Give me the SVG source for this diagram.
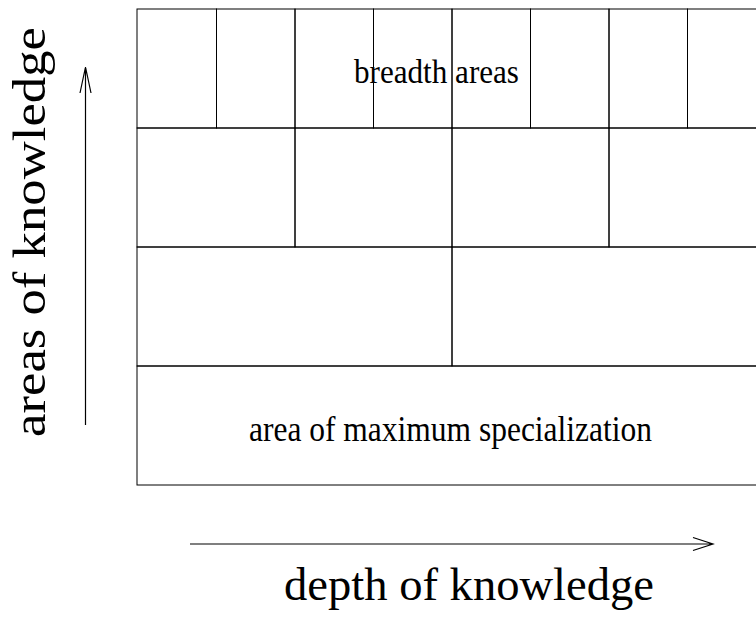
<svg xmlns="http://www.w3.org/2000/svg" width="756" height="618" viewBox="0 0 756 618">
<style>
.cell{fill:none;stroke:#000;stroke-width:1}
.t{font-family:'Liberation Serif','DejaVu Serif',serif;fill:#000}
.ax{fill:none;stroke:#000;stroke-width:1.2}
</style>
<rect width="756" height="618" fill="#fff"/>
<g id="row1">
<g id="b1"><rect class="cell" x="137" y="9" width="79.5" height="119"/></g>
<g id="b2"><rect class="cell" x="216.5" y="9" width="78.5" height="119"/></g>
<g id="b3"><rect class="cell" x="295" y="9" width="78.5" height="119"/></g>
<g id="b4"><rect class="cell" x="373.5" y="9" width="78.5" height="119"/></g>
<g id="b5"><rect class="cell" x="452" y="9" width="78.5" height="119"/></g>
<g id="b6"><rect class="cell" x="530.5" y="9" width="78.5" height="119"/></g>
<g id="b7"><rect class="cell" x="609" y="9" width="78.5" height="119"/></g>
<g id="b8"><rect class="cell" x="687.5" y="9" width="78.5" height="119"/></g>
</g>
<g id="breadth-label"><text class="t" font-family="Liberation Serif, DejaVu Serif, serif" x="354" y="83" font-size="31" textLength="165" lengthAdjust="spacingAndGlyphs" transform="translate(0,83) scale(1,1.12) translate(0,-83)">breadth areas</text></g>
<g id="row2">
<g id="c1"><rect class="cell" x="137" y="128" width="158" height="119"/></g>
<g id="c2"><rect class="cell" x="295" y="128" width="157" height="119"/></g>
<g id="c3"><rect class="cell" x="452" y="128" width="157" height="119"/></g>
<g id="c4"><rect class="cell" x="609" y="128" width="157" height="119"/></g>
</g>
<g id="row3">
<g id="d1"><rect class="cell" x="137" y="247" width="315" height="119"/></g>
<g id="d2"><rect class="cell" x="452" y="247" width="314" height="119"/></g>
</g>
<g id="row4">
<g id="e1"><rect class="cell" x="137" y="366" width="629" height="119"/>
<text class="t" font-family="Liberation Serif, DejaVu Serif, serif" x="249" y="441" font-size="32" textLength="403" lengthAdjust="spacingAndGlyphs" transform="translate(0,441) scale(1,1.12) translate(0,-441)">area of maximum specialization</text></g>
</g>
<g id="connectors">
<path class="ax" d="M190 544H713M693 537.5L713 544L693 550.5"/>
<path class="ax" d="M85.5 425V67M80 93L85.5 67L91 93"/>
</g>
<g id="axis-labels">
<text class="t" font-family="Liberation Serif, DejaVu Serif, serif" x="284" y="600" font-size="47" textLength="370" lengthAdjust="spacingAndGlyphs">depth of knowledge</text>
<text class="t" font-family="Liberation Serif, DejaVu Serif, serif" x="0" y="0" font-size="46" textLength="410" lengthAdjust="spacingAndGlyphs" transform="translate(45,437) rotate(-90)">areas of knowledge</text>
</g>
</svg>
